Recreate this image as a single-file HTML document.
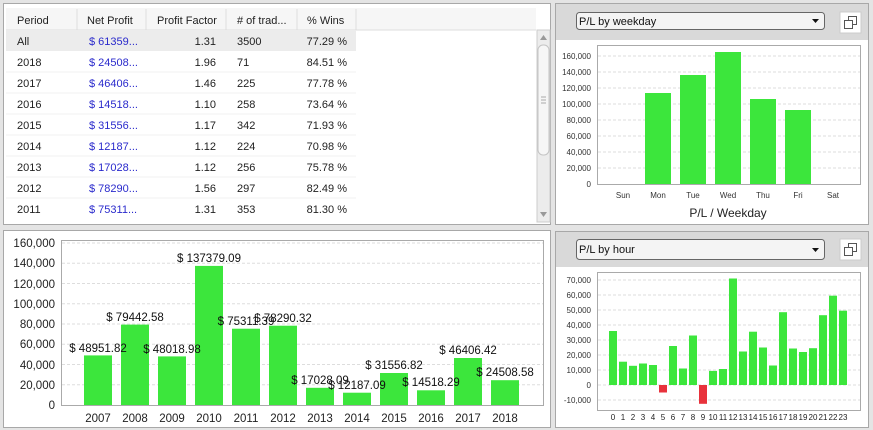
<!DOCTYPE html>
<html><head><meta charset="utf-8"><style>
html,body{margin:0;padding:0;background:#e6e6e6;}
svg{display:block;font-family:"Liberation Sans",Arial,sans-serif;}
</style></head><body>
<svg width="873" height="430" viewBox="0 0 873 430" xmlns="http://www.w3.org/2000/svg">
<rect width="873" height="430" fill="#e4e4e4"/>
<rect x="3.5" y="3.5" width="547" height="221" fill="#fff" stroke="#a8a8a8"/>
<rect x="6" y="8" width="530" height="214" fill="#fff"/>
<rect x="6" y="8" width="530" height="22" fill="#f6f6f6"/>
<line x1="6" y1="30" x2="536" y2="30" stroke="#ddd"/>
<g stroke="#ddd"><line x1="77" y1="9" x2="77" y2="30"/><line x1="146" y1="9" x2="146" y2="30"/><line x1="226" y1="9" x2="226" y2="30"/><line x1="297" y1="9" x2="297" y2="30"/><line x1="356" y1="9" x2="356" y2="30"/></g>
<rect x="6" y="30" width="350" height="21" fill="#ececec"/>
<g stroke="#f0f0f0"><line x1="6" y1="72" x2="356" y2="72"/><line x1="6" y1="93" x2="356" y2="93"/><line x1="6" y1="114" x2="356" y2="114"/><line x1="6" y1="135" x2="356" y2="135"/><line x1="6" y1="156" x2="356" y2="156"/><line x1="6" y1="177" x2="356" y2="177"/><line x1="6" y1="198" x2="356" y2="198"/></g>
<g font-size="11" fill="#222">
<text x="17" y="24">Period</text><text x="87" y="24">Net Profit</text><text x="157" y="24">Profit Factor</text><text x="237" y="24"># of trad...</text><text x="307" y="24">% Wins</text>
</g>
<g font-size="11" fill="#222">
<text x="17" y="45">All</text><text x="17" y="66">2018</text><text x="17" y="87">2017</text><text x="17" y="108">2016</text><text x="17" y="129">2015</text><text x="17" y="150">2014</text><text x="17" y="171">2013</text><text x="17" y="192">2012</text><text x="17" y="213">2011</text>
</g>
<g font-size="11" fill="#2a2acc">
<text x="89" y="45">$ 61359...</text><text x="89" y="66">$ 24508...</text><text x="89" y="87">$ 46406...</text><text x="89" y="108">$ 14518...</text><text x="89" y="129">$ 31556...</text><text x="89" y="150">$ 12187...</text><text x="89" y="171">$ 17028...</text><text x="89" y="192">$ 78290...</text><text x="89" y="213">$ 75311...</text>
</g>
<g font-size="11" fill="#222" text-anchor="end">
<text x="216" y="45">1.31</text><text x="216" y="66">1.96</text><text x="216" y="87">1.46</text><text x="216" y="108">1.10</text><text x="216" y="129">1.17</text><text x="216" y="150">1.12</text><text x="216" y="171">1.12</text><text x="216" y="192">1.56</text><text x="216" y="213">1.31</text>
<text x="347" y="45">77.29 %</text><text x="347" y="66">84.51 %</text><text x="347" y="87">77.78 %</text><text x="347" y="108">73.64 %</text><text x="347" y="129">71.93 %</text><text x="347" y="150">70.98 %</text><text x="347" y="171">75.78 %</text><text x="347" y="192">82.49 %</text><text x="347" y="213">81.30 %</text>
</g>
<g font-size="11" fill="#222">
<text x="237" y="45">3500</text><text x="237" y="66">71</text><text x="237" y="87">225</text><text x="237" y="108">258</text><text x="237" y="129">342</text><text x="237" y="150">224</text><text x="237" y="171">256</text><text x="237" y="192">297</text><text x="237" y="213">353</text>
</g>
<rect x="537" y="30" width="13" height="192" fill="#ececec" stroke="#ccc"/>
<rect x="538" y="45" width="11" height="110" rx="5" fill="#f6f6f6" stroke="#c4c4c4"/>
<path d="M540 40 L543.5 35 L547 40Z" fill="#999"/><path d="M540 212 L543.5 217 L547 212Z" fill="#999"/>
<g stroke="#aaa"><line x1="541" y1="97" x2="546" y2="97"/><line x1="541" y1="100" x2="546" y2="100"/><line x1="541" y1="103" x2="546" y2="103"/></g>

<rect x="3.5" y="230.5" width="547" height="197" fill="#fff" stroke="#a8a8a8"/>
<rect x="61.5" y="240.5" width="482" height="165" fill="#fff" stroke="#aaa"/>
<g stroke="#ddd" stroke-dasharray="3,2">
<line x1="62" y1="384.75" x2="543" y2="384.75"/><line x1="62" y1="364.5" x2="543" y2="364.5"/><line x1="62" y1="344.25" x2="543" y2="344.25"/><line x1="62" y1="324" x2="543" y2="324"/><line x1="62" y1="303.75" x2="543" y2="303.75"/><line x1="62" y1="283.5" x2="543" y2="283.5"/><line x1="62" y1="263.25" x2="543" y2="263.25"/><line x1="62" y1="243" x2="543" y2="243"/>
</g>
<g font-size="11.5" fill="#222" text-anchor="end">
<text x="55" y="409">0</text><text x="55" y="389">20,000</text><text x="55" y="369">40,000</text><text x="55" y="348">60,000</text><text x="55" y="328">80,000</text><text x="55" y="308">100,000</text><text x="55" y="288">120,000</text><text x="55" y="267">140,000</text><text x="55" y="247">160,000</text>
</g>
<g fill="#3ce63c">
<rect x="84" y="355.4" width="28" height="49.6"/><rect x="121" y="324.6" width="28" height="80.4"/><rect x="158" y="356.4" width="28" height="48.6"/><rect x="195" y="265.9" width="28" height="139.1"/><rect x="232" y="328.7" width="28" height="76.3"/><rect x="269" y="325.7" width="28" height="79.3"/><rect x="306" y="387.8" width="28" height="17.2"/><rect x="343" y="392.7" width="28" height="12.3"/><rect x="380" y="373" width="28" height="32"/><rect x="417" y="390.3" width="28" height="14.7"/><rect x="454" y="358" width="28" height="47"/><rect x="491" y="380.2" width="28" height="24.8"/>
</g>
<g font-size="11.5" fill="#111" text-anchor="middle">
<text x="98" y="352">$ 48951.82</text><text x="135" y="321">$ 79442.58</text><text x="172" y="353">$ 48018.98</text><text x="209" y="262">$ 137379.09</text><text x="246" y="325">$ 75311.39</text><text x="283" y="322">$ 78290.32</text><text x="320" y="384">$ 17028.09</text><text x="357" y="389">$ 12187.09</text><text x="394" y="369">$ 31556.82</text><text x="431" y="386">$ 14518.29</text><text x="468" y="354">$ 46406.42</text><text x="505" y="376">$ 24508.58</text>
</g>
<g font-size="11.5" fill="#222" text-anchor="middle">
<text x="98" y="422">2007</text><text x="135" y="422">2008</text><text x="172" y="422">2009</text><text x="209" y="422">2010</text><text x="246" y="422">2011</text><text x="283" y="422">2012</text><text x="320" y="422">2013</text><text x="357" y="422">2014</text><text x="394" y="422">2015</text><text x="431" y="422">2016</text><text x="468" y="422">2017</text><text x="505" y="422">2018</text>
</g>

<rect x="555.5" y="3.5" width="313" height="221" fill="#fff" stroke="#a8a8a8"/>
<rect x="556" y="4" width="312" height="36" fill="#d9d9d9"/>
<rect x="576.5" y="12.5" width="248" height="17" rx="3" fill="#f4f4f4" stroke="#666"/>
<text x="579" y="25" font-size="11" fill="#111">P/L by weekday</text>
<path d="M812 19 L819 19 L815.5 23Z" fill="#111"/>
<rect x="840" y="12" width="21" height="21" fill="#fff" stroke="#ccc"/>
<rect x="848.5" y="16.5" width="8" height="8" fill="none" stroke="#555"/><rect x="844.5" y="20.5" width="8" height="8" fill="#fff" stroke="#555"/>
<rect x="597.5" y="45.5" width="263" height="139" fill="#fff" stroke="#aaa"/>
<g stroke="#ddd" stroke-dasharray="3,2">
<line x1="598" y1="168" x2="860" y2="168"/><line x1="598" y1="152" x2="860" y2="152"/><line x1="598" y1="136" x2="860" y2="136"/><line x1="598" y1="120" x2="860" y2="120"/><line x1="598" y1="104" x2="860" y2="104"/><line x1="598" y1="88" x2="860" y2="88"/><line x1="598" y1="72" x2="860" y2="72"/><line x1="598" y1="56" x2="860" y2="56"/>
</g>
<g font-size="8" fill="#333" text-anchor="end">
<text x="591" y="187">0</text><text x="591" y="171">20,000</text><text x="591" y="155">40,000</text><text x="591" y="139">60,000</text><text x="591" y="123">80,000</text><text x="591" y="107">100,000</text><text x="591" y="91">120,000</text><text x="591" y="75">140,000</text><text x="591" y="59">160,000</text>
</g>
<g fill="#3ce63c">
<rect x="645" y="93" width="26" height="91"/><rect x="680" y="75" width="26" height="109"/><rect x="715" y="52" width="26" height="132"/><rect x="750" y="99" width="26" height="85"/><rect x="785" y="110" width="26" height="74"/>
</g>
<g font-size="8" fill="#333" text-anchor="middle">
<text x="623" y="198">Sun</text><text x="658" y="198">Mon</text><text x="693" y="198">Tue</text><text x="728" y="198">Wed</text><text x="763" y="198">Thu</text><text x="798" y="198">Fri</text><text x="833" y="198">Sat</text>
</g>
<text x="728" y="217" font-size="12" fill="#222" text-anchor="middle">P/L / Weekday</text>

<rect x="555.5" y="231.5" width="313" height="196" fill="#fff" stroke="#a8a8a8"/>
<rect x="556" y="232" width="312" height="35" fill="#d9d9d9"/>
<rect x="576.5" y="239.5" width="248" height="20" rx="3" fill="#f4f4f4" stroke="#666"/>
<text x="579" y="253" font-size="11" fill="#111">P/L by hour</text>
<path d="M812 248 L819 248 L815.5 252Z" fill="#111"/>
<rect x="840" y="239" width="21" height="21" fill="#fff" stroke="#ccc"/>
<rect x="848.5" y="243.5" width="8" height="8" fill="none" stroke="#555"/><rect x="844.5" y="247.5" width="8" height="8" fill="#fff" stroke="#555"/>
<rect x="597.5" y="272.5" width="263" height="138" fill="#fff" stroke="#aaa"/>
<g stroke="#ddd" stroke-dasharray="3,2">
<line x1="598" y1="400" x2="860" y2="400"/><line x1="598" y1="385" x2="860" y2="385"/><line x1="598" y1="370" x2="860" y2="370"/><line x1="598" y1="355" x2="860" y2="355"/><line x1="598" y1="340" x2="860" y2="340"/><line x1="598" y1="325" x2="860" y2="325"/><line x1="598" y1="310" x2="860" y2="310"/><line x1="598" y1="295" x2="860" y2="295"/><line x1="598" y1="280" x2="860" y2="280"/>
</g>
<g font-size="8" fill="#333" text-anchor="end">
<text x="591" y="403">-10,000</text><text x="591" y="388">0</text><text x="591" y="373">10,000</text><text x="591" y="358">20,000</text><text x="591" y="343">30,000</text><text x="591" y="328">40,000</text><text x="591" y="313">50,000</text><text x="591" y="298">60,000</text><text x="591" y="283">70,000</text>
</g>
<g fill="#3ce63c">
<rect x="609" y="331" width="8" height="54"/><rect x="619" y="361.7" width="8" height="23.3"/><rect x="629" y="365.8" width="8" height="19.2"/><rect x="639" y="363.5" width="8" height="21.5"/><rect x="649" y="365" width="8" height="20"/>
<rect x="669" y="346" width="8" height="39"/><rect x="679" y="368.5" width="8" height="16.5"/><rect x="689" y="335.5" width="8" height="49.5"/>
<rect x="709" y="370.9" width="8" height="14.1"/><rect x="719" y="369" width="8" height="16"/><rect x="729" y="278.5" width="8" height="106.5"/><rect x="739" y="351.5" width="8" height="33.5"/><rect x="749" y="331.7" width="8" height="53.3"/><rect x="759" y="347.5" width="8" height="37.5"/><rect x="769" y="365.5" width="8" height="19.5"/><rect x="779" y="312.2" width="8" height="72.8"/><rect x="789" y="348.5" width="8" height="36.5"/><rect x="799" y="352" width="8" height="33"/><rect x="809" y="348.2" width="8" height="36.8"/><rect x="819" y="315.2" width="8" height="69.8"/><rect x="829" y="295.7" width="8" height="89.3"/><rect x="839" y="310.7" width="8" height="74.3"/>
</g>
<g fill="#e8323c"><rect x="659" y="385" width="8" height="7.5"/><rect x="699" y="385" width="8" height="18.8"/></g>
<g font-size="8" fill="#222" text-anchor="middle">
<text x="613" y="420">0</text><text x="623" y="420">1</text><text x="633" y="420">2</text><text x="643" y="420">3</text><text x="653" y="420">4</text><text x="663" y="420">5</text><text x="673" y="420">6</text><text x="683" y="420">7</text><text x="693" y="420">8</text><text x="703" y="420">9</text><text x="713" y="420">10</text><text x="723" y="420">11</text><text x="733" y="420">12</text><text x="743" y="420">13</text><text x="753" y="420">14</text><text x="763" y="420">15</text><text x="773" y="420">16</text><text x="783" y="420">17</text><text x="793" y="420">18</text><text x="803" y="420">19</text><text x="813" y="420">20</text><text x="823" y="420">21</text><text x="833" y="420">22</text><text x="843" y="420">23</text>
</g>
</svg>
</body></html>
